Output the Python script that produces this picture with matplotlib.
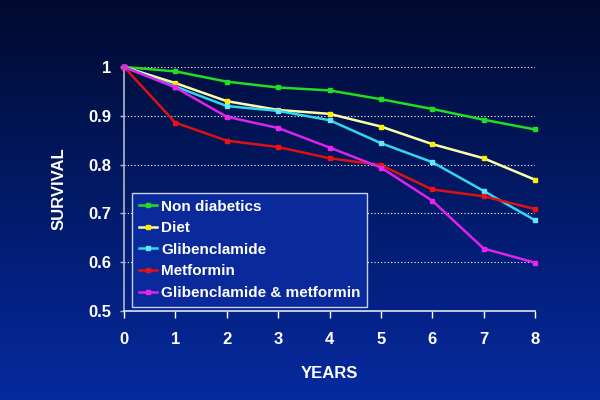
import numpy as np
import matplotlib
matplotlib.use("Agg")
import matplotlib.pyplot as plt

years = [0, 1, 2, 3, 4, 5, 6, 7, 8]
non_diabetics = [1.0, 0.991, 0.970, 0.958, 0.952, 0.934, 0.914, 0.892, 0.872]
diet = [1.0, 0.967, 0.930, 0.912, 0.904, 0.878, 0.842, 0.813, 0.769]
glibenclamide = [1.0, 0.960, 0.920, 0.910, 0.891, 0.844, 0.805, 0.746, 0.686]
metformin = [1.0, 0.886, 0.849, 0.836, 0.813, 0.799, 0.749, 0.735, 0.709]
glib_metformin = [1.0, 0.958, 0.898, 0.875, 0.835, 0.794, 0.726, 0.628, 0.599]
labels = ["Non diabetics", "Diet", "Glibenclamide", "Metformin", "Glibenclamide & metformin"]
yticks = [0.5, 0.6, 0.7, 0.8, 0.9, 1.0]
ytick_labels = ["0.5", "0.6", "0.7", "0.8", "0.9", "1"]

plt.rcParams['font.family'] = ['Liberation Sans', 'DejaVu Sans']
plt.rcParams['font.weight'] = 'bold'

fig = plt.figure(figsize=(6, 4), dpi=100)

# gradient background
bg = fig.add_axes([0, 0, 1, 1], zorder=0)
top = np.array([0, 10, 48]) / 255
bot = np.array([6, 42, 160]) / 255
t = np.linspace(0, 1, 256)[:, None]
grad = top[None, :] * (1 - t) + bot[None, :] * t
bg.imshow(grad[:, None, :], aspect='auto', extent=[0, 1, 0, 1])
bg.axis('off')

ax = fig.add_axes([124 / 600, 1 - 311 / 400, (535 - 124) / 600, (311 - 67) / 400], zorder=1)
ax.patch.set_alpha(0)

series = [non_diabetics, diet, glibenclamide, metformin, glib_metformin]
line_colors = ["#22dd22", "#ffffaa", "#33d6f0", "#dd1111", "#dd22ee"]
marker_colors = ["#22dd22", "#ffee00", "#66e6ff", "#ee1111", "#ee22ee"]
for s, lc, mc, lab in zip(series, line_colors, marker_colors, labels):
    ax.plot(years, s, color=lc, lw=1.8, marker='s', ms=3.2, mfc=mc, mec=mc,
            label=lab, clip_on=False, zorder=3)

ax.set_xlim(0, 8)
ax.set_ylim(0.5, 1.0)
ax.set_xticks(years)
ax.set_yticks(yticks)
ax.set_yticklabels(ytick_labels)
for y in yticks[1:]:
    ax.axhline(y, color='white', lw=0.8, ls=(0, (1, 2)), zorder=1)

for side in ['top', 'right']:
    ax.spines[side].set_visible(False)
ax.spines['left'].set_color('#b0b8d0')
ax.spines['bottom'].set_color('#e0e4f0')
ax.spines['left'].set_linewidth(1.2)
ax.spines['bottom'].set_linewidth(1.2)
ax.tick_params(axis='x', colors='white', labelsize=12, direction='out', length=5, pad=10, width=1)
ax.tick_params(axis='y', colors='white', labelsize=12, direction='out', length=3, pad=6,
               width=1, color='#b0b8d0')
for lbl in ax.get_xticklabels() + ax.get_yticklabels():
    lbl.set_fontweight('bold')

ax.set_xlabel("YEARS", color='white', fontsize=12, fontweight='bold', labelpad=14)
ax.set_ylabel("SURVIVAL", color='white', fontsize=12, fontweight='bold', labelpad=16)

leg = ax.legend(loc='lower left', bbox_to_anchor=(8 / 411, 4 / 244), frameon=True,
                fancybox=False, fontsize=11, handlelength=1.2, handletextpad=0.25,
                borderpad=0.45, labelspacing=0.5, markerscale=0.8, borderaxespad=0)
leg.get_frame().set_facecolor('#0a2a9c')
leg.get_frame().set_edgecolor('#c8d0f0')
leg.get_frame().set_linewidth(1.0)
leg.get_frame().set_alpha(1)
for txt in leg.get_texts():
    txt.set_color('white')
    txt.set_fontweight('bold')

fig.savefig("out.png", dpi=100)
